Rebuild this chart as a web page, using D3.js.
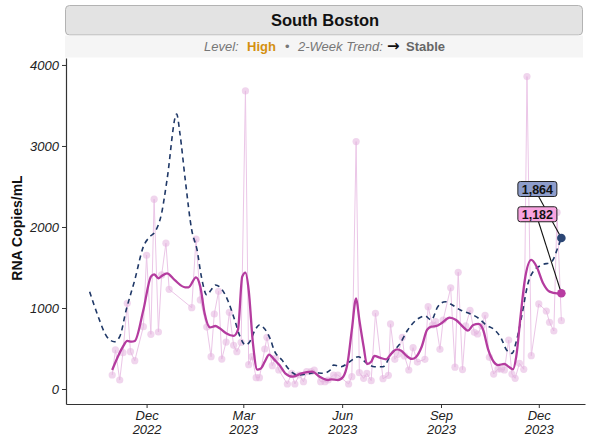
<!DOCTYPE html>
<html>
<head>
<meta charset="utf-8">
<script src="https://cdn.jsdelivr.net/npm/d3@7"></script>
<style>
body { margin: 0; background: #fff; }
text { font-family: "Liberation Sans", Arial, Helvetica, sans-serif; }
</style>
</head>
<body>
<svg width="589" height="437"></svg>
<script>
// raw samples (light pink points + thin line)
var rawDates = ["2022-10-30","2022-11-02","2022-11-06","2022-11-09","2022-11-13","2022-11-16","2022-11-20","2022-11-28","2022-12-01","2022-12-05","2022-12-08","2022-12-12","2022-12-15","2022-12-19","2022-12-22","2023-01-12","2023-01-16","2023-01-20","2023-01-26","2023-01-30","2023-02-02","2023-02-06","2023-02-09","2023-02-13","2023-02-16","2023-02-20","2023-02-23","2023-02-27","2023-03-03","2023-03-06","2023-03-09","2023-03-13","2023-03-16","2023-03-21","2023-03-23","2023-03-28","2023-03-31","2023-04-03","2023-04-11","2023-04-15","2023-04-18","2023-04-22","2023-04-26","2023-04-29","2023-05-03","2023-05-06","2023-05-12","2023-05-16","2023-05-19","2023-05-24","2023-05-28","2023-06-07","2023-06-10","2023-06-14","2023-06-17","2023-06-21","2023-06-24","2023-06-28","2023-07-02","2023-07-09","2023-07-14","2023-07-16","2023-07-20","2023-07-23","2023-07-27","2023-07-29","2023-08-02","2023-08-06","2023-08-10","2023-08-17","2023-08-20","2023-08-24","2023-08-27","2023-08-31","2023-09-03","2023-09-10","2023-09-14","2023-09-17","2023-09-21","2023-09-24","2023-09-28","2023-10-02","2023-10-05","2023-10-09","2023-10-12","2023-10-16","2023-10-20","2023-10-24","2023-10-27","2023-10-30","2023-11-03","2023-11-06","2023-11-09","2023-11-13","2023-11-17","2023-11-20","2023-11-24","2023-12-01","2023-12-08","2023-12-11","2023-12-15","2023-12-18","2023-12-22"];
var rawValues = [173,482,111,448,1058,461,350,770,1651,675,2343,704,1408,1800,1231,1004,1850,1100,765,399,926,1206,370,580,947,539,461,576,3680,300,399,140,140,494,638,288,380,235,62,194,62,173,90,214,214,235,90,90,111,173,173,62,152,3054,202,132,193,103,935,127,169,803,367,428,638,408,235,510,333,367,1016,790,831,490,852,1250,270,1441,240,780,970,700,679,778,910,391,185,247,247,235,605,185,132,317,243,3857,411,1050,963,824,716,2180,843];

// smoothed level (solid magenta)
var smoothDates = ["2022-10-30","2022-11-05","2022-11-09","2022-11-13","2022-11-17","2022-11-20","2022-11-28","2022-12-05","2022-12-08","2022-12-12","2022-12-15","2022-12-20","2022-12-27","2023-01-06","2023-01-09","2023-01-16","2023-01-20","2023-01-24","2023-01-29","2023-02-03","2023-02-07","2023-02-13","2023-02-20","2023-02-24","2023-02-28","2023-03-03","2023-03-06","2023-03-10","2023-03-14","2023-03-17","2023-03-21","2023-03-25","2023-03-30","2023-04-04","2023-04-09","2023-04-16","2023-04-24","2023-05-04","2023-05-11","2023-05-19","2023-05-22","2023-05-28","2023-06-02","2023-06-06","2023-06-10","2023-06-14","2023-06-17","2023-06-21","2023-06-24","2023-06-28","2023-07-01","2023-07-06","2023-07-12","2023-07-17","2023-07-22","2023-07-26","2023-07-31","2023-08-05","2023-08-09","2023-08-14","2023-08-19","2023-08-23","2023-08-28","2023-09-02","2023-09-09","2023-09-15","2023-09-22","2023-09-26","2023-10-01","2023-10-06","2023-10-10","2023-10-15","2023-10-20","2023-10-24","2023-10-30","2023-11-03","2023-11-07","2023-11-10","2023-11-14","2023-11-18","2023-11-24","2023-11-29","2023-12-05","2023-12-11","2023-12-18","2023-12-22"];
var smoothValues = [235,420,522,593,584,593,975,1387,1416,1367,1395,1428,1346,1255,1255,1379,1263,935,760,778,749,688,655,729,1387,1436,1222,560,240,250,337,425,360,290,194,152,194,214,152,111,119,111,152,317,729,1120,852,522,309,337,408,387,367,441,490,473,408,371,399,522,729,770,778,819,881,852,760,720,790,803,737,482,337,296,309,275,243,399,893,1346,1593,1510,1305,1202,1181,1182];

// comparison trend (dashed navy)
var trendDates = ["2022-10-09","2022-10-17","2022-10-25","2022-11-01","2022-11-06","2022-11-12","2022-11-20","2022-11-28","2022-12-04","2022-12-09","2022-12-15","2022-12-20","2022-12-29","2023-01-01","2023-01-06","2023-01-12","2023-01-17","2023-01-21","2023-01-26","2023-01-30","2023-02-03","2023-02-09","2023-02-15","2023-02-21","2023-02-26","2023-03-03","2023-03-07","2023-03-12","2023-03-16","2023-03-21","2023-03-26","2023-03-30","2023-04-06","2023-04-13","2023-04-21","2023-04-29","2023-05-07","2023-05-14","2023-05-21","2023-05-24","2023-05-31","2023-06-08","2023-06-16","2023-06-24","2023-07-01","2023-07-09","2023-07-17","2023-07-25","2023-08-01","2023-08-09","2023-08-17","2023-08-23","2023-08-29","2023-09-05","2023-09-10","2023-09-19","2023-09-27","2023-10-06","2023-10-13","2023-10-21","2023-10-27","2023-11-01","2023-11-06","2023-11-10","2023-11-15","2023-11-21","2023-11-27","2023-12-04","2023-12-13","2023-12-19","2023-12-22"];
var trendValues = [1202,893,646,584,646,975,1346,1757,1880,1943,2170,2581,3395,3157,2581,1963,1716,1387,1161,1222,1284,1231,1080,852,646,543,584,729,790,740,620,470,358,235,173,185,201,194,235,296,275,337,399,317,275,275,441,564,729,852,902,852,1016,1078,1050,975,935,873,790,729,626,482,440,584,893,1305,1470,1531,1572,1757,1864];

var yTicks = [0, 1000, 2000, 3000, 4000];
var xTickDates = ["2022-12-01","2023-03-01","2023-06-01","2023-09-01","2023-12-01"];
var xTickLabels = [["Dec","2022"],["Mar","2023"],["Jun","2023"],["Sep","2023"],["Dec","2023"]];

var svg = d3.select("svg"),
    width = +svg.attr("width"),
    height = +svg.attr("height");

var parse = d3.timeParse("%Y-%m-%d");
var fmt = d3.format(",");

function zip(dates, vals) {
    return dates.map(function (d, i) { return {date: parse(d), value: vals[i]}; });
}
var raw = zip(rawDates, rawValues),
    smooth = zip(smoothDates, smoothValues),
    trend = zip(trendDates, trendValues);

var panel = {left: 66, right: 584, top: 58, bottom: 404};

var x = d3.scaleTime()
    .domain([parse("2022-09-17"), parse("2024-01-13")])
    .range([panel.left, panel.right + 1]);
var y = d3.scaleLinear()
    .domain([-185, 4086])
    .range([panel.bottom, panel.top]);

// title strip
svg.append("rect")
    .attr("x", 65.5).attr("y", 5.5)
    .attr("width", 517).attr("height", 29.5)
    .attr("rx", 4)
    .attr("fill", "#e3e3e3")
    .attr("stroke", "#b3b3b3");
svg.append("text")
    .attr("x", 325).attr("y", 26)
    .attr("text-anchor", "middle")
    .style("font-size", "16.5px")
    .style("font-weight", "bold")
    .attr("fill", "#111")
    .text("South Boston");

// subtitle strip
svg.append("rect")
    .attr("x", 65).attr("y", 35.5)
    .attr("width", 518).attr("height", 22)
    .attr("fill", "#f5f5f5");
var sub = svg.append("text")
    .attr("y", 51)
    .style("font-size", "13px");
sub.append("tspan").attr("x", 204).attr("fill", "#777").style("font-style", "italic").text("Level:");
sub.append("tspan").attr("x", 247).attr("fill", "#d4900f").style("font-weight", "bold").text("High");
sub.append("tspan").attr("x", 285).attr("fill", "#777").text("\u2022");
sub.append("tspan").attr("x", 298).attr("fill", "#777").style("font-style", "italic").text("2-Week Trend:");
sub.append("tspan").attr("x", 387).attr("fill", "#111").style("font-weight", "bold")
    .style("font-size", "15px").style("font-family", "'DejaVu Sans', sans-serif").text("\u2192");
sub.append("tspan").attr("x", 406).attr("fill", "#666").style("font-weight", "bold").text("Stable");

// axes
var yAxis = svg.append("g")
    .attr("transform", "translate(" + panel.left + ",0)")
    .call(d3.axisLeft(y).tickValues(yTicks).tickSize(4).tickSizeOuter(0).tickPadding(3).tickFormat(d3.format("d")));
var xAxis = svg.append("g")
    .attr("transform", "translate(0," + panel.bottom + ")")
    .call(d3.axisBottom(x).tickValues(xTickDates.map(parse)).tickSize(4).tickSizeOuter(0).tickFormat(""));

[yAxis, xAxis].forEach(function (g) {
    g.select(".domain").attr("stroke", "#333").attr("stroke-width", 1.2);
    g.selectAll(".tick line").attr("stroke", "#333").attr("stroke-width", 1);
});
yAxis.selectAll(".tick text")
    .attr("fill", "#222")
    .style("font-size", "13px")
    .style("font-style", "italic")
    .style("font-family", "'Liberation Sans', Arial, sans-serif");

xAxis.selectAll(".tick").each(function (d, i) {
    var t = d3.select(this).append("text")
        .attr("text-anchor", "middle")
        .attr("fill", "#222")
        .style("font-size", "13px")
        .style("font-style", "italic");
    t.append("tspan").attr("x", 0).attr("y", 16).text(xTickLabels[i][0]);
    t.append("tspan").attr("x", 0).attr("y", 30).text(xTickLabels[i][1]);
});

svg.append("text")
    .attr("transform", "translate(22," + ((panel.top + panel.bottom) / 2 - 3) + ") rotate(-90)")
    .attr("text-anchor", "middle")
    .style("font-size", "14px")
    .style("font-weight", "bold")
    .attr("fill", "#111")
    .text("RNA Copies/mL");

// lines
var line = d3.line()
    .x(function (d) { return x(d.date); })
    .y(function (d) { return y(d.value); });
var smoothLine = d3.line()
    .curve(d3.curveMonotoneX)
    .x(function (d) { return x(d.date); })
    .y(function (d) { return y(d.value); });

svg.append("path")
    .datum(raw)
    .attr("d", line)
    .attr("fill", "none")
    .attr("stroke", "#ebc6e7")
    .attr("stroke-width", 1);

svg.append("g").selectAll("circle")
    .data(raw)
    .enter().append("circle")
    .attr("cx", function (d) { return x(d.date); })
    .attr("cy", function (d) { return y(d.value); })
    .attr("r", 3.6)
    .attr("fill", "#e3b3de")
    .attr("fill-opacity", 0.55);

svg.append("path")
    .datum(trend)
    .attr("d", smoothLine)
    .attr("fill", "none")
    .attr("stroke", "#1f3867")
    .attr("stroke-width", 1.6)
    .attr("stroke-dasharray", "5,4");

svg.append("path")
    .datum(smooth)
    .attr("d", smoothLine)
    .attr("fill", "none")
    .attr("stroke", "#b43c9f")
    .attr("stroke-width", 2.3);

// end labels
var ends = [
    {d: trend[trend.length - 1], fill: "#8e9dcb", dot: "#2b4674", dy: -49},
    {d: smooth[smooth.length - 1], fill: "#f7a3df", dot: "#b83ca2", dy: -79}
];

ends.forEach(function (e) {
    var px = x(e.d.date), py = y(e.d.value);
    var bx = px - 24, by = py + e.dy;
    svg.append("line")
        .attr("x1", bx + 1).attr("y1", by + 7)
        .attr("x2", px).attr("y2", py)
        .attr("stroke", "#111").attr("stroke-width", 1.1);
    svg.append("circle")
        .attr("cx", px).attr("cy", py).attr("r", 4.3)
        .attr("fill", e.dot);
    svg.append("rect")
        .attr("x", bx - 19.5).attr("y", by - 7.5)
        .attr("width", 39).attr("height", 15)
        .attr("rx", 2.5)
        .attr("fill", e.fill)
        .attr("stroke", "#222").attr("stroke-width", 1);
    svg.append("text")
        .attr("x", bx).attr("y", by + 4.5)
        .attr("text-anchor", "middle")
        .style("font-size", "12.5px")
        .style("font-weight", "bold")
        .attr("fill", "#111")
        .text(fmt(e.d.value));
});
</script>
</body>
</html>
